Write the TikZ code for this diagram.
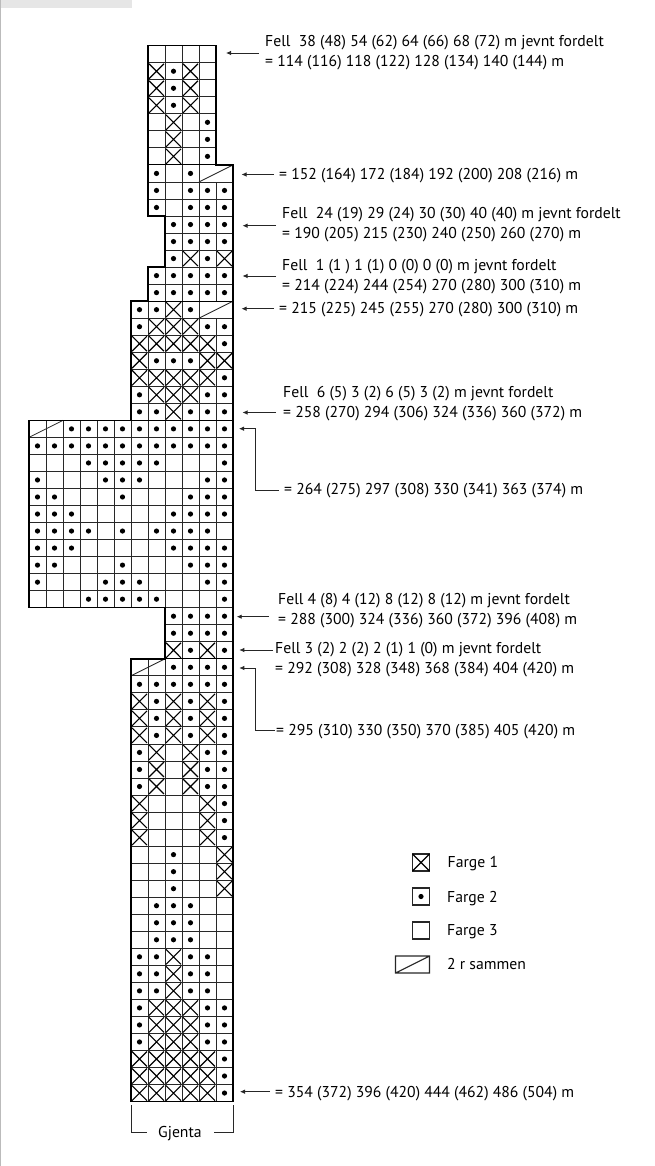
\documentclass[tikz,border=0pt]{standalone}
\usepackage{fontspec}
\setmainfont{PT Sans}
\usetikzlibrary{arrows.meta}
\definecolor{pagegrey}{RGB}{187,187,187}
\definecolor{bargrey}{RGB}{230,230,230}
\definecolor{gridline}{RGB}{40,40,40}
\newcommand{\chartrow}[3]{%
  \foreach \k [count=\i from #2] in {#3} {\pic at (\i,#1) {cell\k};}}
\begin{document}
\begin{tikzpicture}[
    x=1pt, y=-1pt,
    every node/.style={font=\fontsize{15.7}{20}\selectfont, inner sep=0pt, anchor=west, text=black},
    thingrid/.style={draw=gridline, line width=0.85pt},
    outline/.style={draw=black, line width=1.6pt, line join=miter},
    sectionline/.style={draw=black, line width=1.1pt},
    crossline/.style={draw=black, line width=1.1pt},
    legendbox/.style={draw=black!85, line width=1.1pt},
    arrow/.style={-{Latex[length=5pt,width=4.5pt]}, draw=black!85, line width=0.8pt},
    pics/celle/.style={code={\draw[thingrid] (0,0) rectangle (1,1);}},
    pics/cellp/.style={code={\draw[thingrid] (0,0) rectangle (1,1);
        \fill (0.5,0.5) circle (2.6pt);}},
    pics/cellx/.style={code={\draw[thingrid] (0,0) rectangle (1,1);
        \draw[crossline] (0.06,0.06) -- (0.94,0.94) (0.94,0.06) -- (0.06,0.94);}},
    pics/cellpair/.style={code={\draw[thingrid] (0,0) rectangle (2,1);
        \draw[thingrid] (0,1) -- (2,0);}}
]
\useasboundingbox (0,0) rectangle (654,1166);
\fill[bargrey] (1,0) rectangle (132,8);
\fill[pagegrey] (0,0) rectangle (1,1166);

% chart
\begin{scope}[shift={(29,45.7)}, x=17pt, y=-17.03pt]
\chartrow{0}{7}{e,e,e,e}
\foreach \r in {1,2,3} {\chartrow{\r}{7}{x,p,x,e}}
\foreach \r in {4,5,6} {\chartrow{\r}{7}{e,x,e,p}}
\chartrow{7}{7}{p,e,p}
\foreach \r in {8,9} {\chartrow{\r}{7}{p,e,p,p,p}}
\foreach \r in {10,11} {\chartrow{\r}{8}{p,p,p,p}}
\chartrow{12}{8}{p,x,p,x}
\foreach \r in {13,14} {\chartrow{\r}{7}{p,p,p,p,p}}
\chartrow{15}{6}{p,p,x,p}
\chartrow{16}{6}{p,x,x,x,p,p}
\chartrow{17}{6}{x,x,x,x,x,p}
\chartrow{18}{6}{x,p,p,p,x,x}
\chartrow{19}{6}{x,x,x,x,x,p}
\chartrow{20}{6}{p,x,x,x,p,p}
\chartrow{21}{6}{p,p,x,p,p,p}
\chartrow{22}{2}{p,p,p,p,p,p,p,p,p,p}
\chartrow{23}{0}{p,p,p,p,p,p,p,p,p,p,p,p}
\foreach \r in {24,32} {\chartrow{\r}{0}{e,e,e,p,p,p,p,p,e,e,e,p}}
\foreach \r in {25,31} {\chartrow{\r}{0}{p,e,e,e,p,p,p,e,e,e,p,p}}
\foreach \r in {26,30} {\chartrow{\r}{0}{p,p,e,e,e,p,e,e,e,p,p,p}}
\foreach \r in {27,29} {\chartrow{\r}{0}{p,p,p,e,e,e,e,e,p,p,p,p}}
\chartrow{28}{0}{p,p,p,p,e,p,e,p,p,p,p,e}
\foreach \r in {33,34} {\chartrow{\r}{8}{p,p,p,p}}
\chartrow{35}{8}{x,p,x,p}
\chartrow{36}{8}{p,p,p,p}
\chartrow{37}{6}{p,p,p,p,p,p}
\foreach \r in {38,39,40} {\chartrow{\r}{6}{x,p,x,p,x,p}}
\foreach \r in {41,42,43} {\chartrow{\r}{6}{p,x,e,x,p,p}}
\foreach \r in {44,45,46} {\chartrow{\r}{6}{x,e,e,e,x,p}}
\foreach \r in {47,48,49} {\chartrow{\r}{6}{e,e,p,e,e,x}}
\foreach \r in {50,51,52} {\chartrow{\r}{6}{e,p,p,p,e,e}}
\foreach \r in {53,54,55} {\chartrow{\r}{6}{p,p,x,p,p,e}}
\foreach \r in {56,57,58} {\chartrow{\r}{6}{p,x,x,x,p,p}}
\foreach \r in {59,60,61} {\chartrow{\r}{6}{x,x,x,x,x,p}}
\pic at (10,7) {cellpair};
\pic at (10,15) {cellpair};
\pic at (0,22) {cellpair};
\pic at (6,36) {cellpair};
\draw[thingrid] (1,22) -- (1,23) (7,36) -- (7,37);
\draw[sectionline] (7,7) -- (12,7) (6,15) -- (12,15) (6,22) -- (12,22) (8,36) -- (12,36);
\draw[outline] (7,0) -- (11,0) -- (11,7) -- (12,7) -- (12,62) -- (6,62) -- (6,36) -- (8,36)
  -- (8,33) -- (0,33) -- (0,22) -- (6,22) -- (6,15) -- (7,15) -- (7,13) -- (8,13) -- (8,10)
  -- (7,10) -- cycle;
\end{scope}

% labels
\node[align=left] (lab0) at (265,53) {Fell\ \ 38 (48) 54 (62) 64 (66) 68 (72) m jevnt fordelt\\= 114 (116) 118 (122) 128 (134) 140 (144) m};
\node (lab7) at (279,176) {= 152 (164) 172 (184) 192 (200) 208 (216) m};
\node[align=left] (lab10) at (282,225) {Fell\ \ 24 (19) 29 (24) 30 (30) 40 (40) m jevnt fordelt\\= 190 (205) 215 (230) 240 (250) 260 (270) m};
\node[align=left] (lab13) at (282,276.5) {Fell\ \ 1 (1 ) 1 (1) 0 (0) 0 (0) m jevnt fordelt\\= 214 (224) 244 (254) 270 (280) 300 (310) m};
\node (lab15) at (279,310) {= 215 (225) 245 (255) 270 (280) 300 (310) m};
\node[align=left] (lab21) at (283,403.5) {Fell\ \ 6 (5) 3 (2) 6 (5) 3 (2) m jevnt fordelt\\= 258 (270) 294 (306) 324 (336) 360 (372) m};
\node (lab22) at (284,491) {= 264 (275) 297 (308) 330 (341) 363 (374) m};
\node[align=left] (lab33) at (278,611) {Fell 4 (8) 4 (12) 8 (12) 8 (12) m jevnt fordelt\\= 288 (300) 324 (336) 360 (372) 396 (408) m};
\node (lab35) at (275,649.5) {Fell 3 (2) 2 (2) 2 (1) 1 (0) m jevnt fordelt};
\node (lab36) at (275,669.5) {= 292 (308) 328 (348) 368 (384) 404 (420) m};
\node (lab38) at (276,732) {= 295 (310) 330 (350) 370 (385) 405 (420) m};
\node (lab61) at (275,1094) {= 354 (372) 396 (420) 444 (462) 486 (504) m};

% arrow tips
\coordinate (tip0) at (226,53);
\coordinate (tip7) at (241.5,174.5);
\coordinate (tip10) at (242.5,225.7);
\coordinate (tip13) at (242.5,276);
\coordinate (tip15) at (241.5,308.7);
\coordinate (tip21) at (242.5,412.5);
\coordinate (tip22) at (239,428.7);
\coordinate (tip33) at (236.7,616.7);
\coordinate (tip35) at (239.3,650);
\coordinate (tip36) at (239.3,668);
\coordinate (tip38) at (275,730.7);
\coordinate (tip61) at (240,1091.7);

\draw[arrow, shorten <=6pt] (lab0.west |- tip0) -- (tip0);
\draw[arrow, shorten <=5pt] (lab7.west |- tip7) -- (tip7);
\draw[arrow, shorten <=6pt] (lab10.west |- tip10) -- (tip10);
\draw[arrow, shorten <=6pt] (lab13.west |- tip13) -- (tip13);
\draw[arrow, shorten <=5pt] (lab15.west |- tip15) -- (tip15);
\draw[arrow, shorten <=7pt] (lab21.west |- tip21) -- (tip21);
\draw[arrow, shorten <=9pt] (lab33.west |- tip33) -- (tip33);
\draw[arrow, shorten <=2pt] (lab35.west |- tip35) -- (tip35);
\draw[arrow, shorten <=5pt] (lab61.west |- tip61) -- (tip61);
\draw[arrow] (lab22.west |- 0,490.7) ++(-5,0) -- ++(-24,0) |- (tip22);
\draw[arrow] (tip38) -- ++(-20,0) |- (tip36);

% bracket
\node (gjenta) at (158,1134) {Gjenta};
\coordinate (brleft) at (131.7,1105);
\coordinate (brright) at (233.3,1105);
\draw[thingrid, shorten >=11pt] (brleft) |- (gjenta.west |- 0,1132.7);
\draw[thingrid, shorten >=12pt] (brright) |- (gjenta.east |- 0,1132.7);

% legend
\begin{scope}[shift={(412.5,854)}, x=17pt, y=-17pt, thingrid/.style={legendbox}]
\pic at (0,0) {celle};
\pic at (0,2) {cellp};
\pic at (0,4) {celle};
\draw[crossline] (0,0) -- (1,1) (1,0) -- (0,1);
\draw[legendbox] (-1,6) rectangle (1,7) (-1,7) -- (1,6);
\end{scope}
\node (farge1) at (447.5,864) {Farge 1};
\node (farge2) at (447,898.5) {Farge 2};
\node (farge3) at (447,931.5) {Farge 3};
\node (sammen) at (447,964) {2 r sammen};
\end{tikzpicture}
\end{document}
